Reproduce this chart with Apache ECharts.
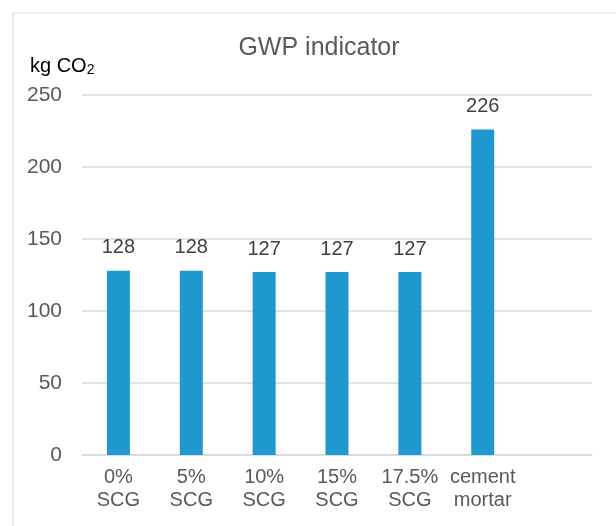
<!DOCTYPE html>
<html><head><meta charset="utf-8">
<script src="https://cdn.jsdelivr.net/npm/echarts@6/dist/echarts.min.js"></script>
<style>html,body{margin:0;padding:0;background:#fff}#c{width:616px;height:526px}</style>
</head><body><div id="c"></div>
<script>
const categories = ['0%\nSCG', '5%\nSCG', '10%\nSCG', '15%\nSCG', '17.5%\nSCG', 'cement\nmortar', ''];
const gwpValues = [128, 128, 127, 127, 127, 226, null];
const yTicks = [0, 50, 100, 150, 200, 250];

const chart = echarts.init(document.getElementById('c'));
chart.setOption({
  animation: false,
  textStyle: { fontFamily: 'Liberation Sans, Arial, sans-serif' },
  title: {
    text: 'GWP indicator', left: 314, top: 31, textAlign: 'center',
    textStyle: { fontSize: 25, fontWeight: 'normal', color: '#595959', fontFamily: 'Liberation Sans' }
  },
  graphic: [
    { type: 'rect', left: 10.5, top: 10.5, shape: { width: 640, height: 560 }, style: { fill: 'none', stroke: '#d9d9d9', lineWidth: 1 }, silent: true },
    { type: 'text', left: 30, top: 56, style: {
        text: 'kg CO{s|2}',
        rich: { s: { fontSize: 14, verticalAlign: 'bottom', padding: [8, 0, 0, 0], fill: '#000' } },
        fontSize: 20, fill: '#000', fontFamily: 'Liberation Sans' } }
  ],
  grid: { left: 82, right: 24, top: 95, bottom: 71, containLabel: false },
  xAxis: {
    type: 'category', data: categories,
    axisLine: { show: true, lineStyle: { color: '#d9d9d9', width: 1.5 } },
    axisTick: { show: false },
    axisLabel: { color: '#595959', fontSize: 20, lineHeight: 23, margin: 11, interval: 0, fontFamily: 'Liberation Sans' }
  },
  yAxis: {
    type: 'value', min: yTicks[0], max: yTicks[yTicks.length - 1], interval: 50,
    axisLine: { show: false }, axisTick: { show: false },
    splitLine: { lineStyle: { color: '#d9d9d9', width: 1.5 } },
    axisLabel: { color: '#595959', fontSize: 21, margin: 20, fontFamily: 'Liberation Sans' }
  },
  series: [{
    type: 'bar', data: gwpValues, barWidth: 23,
    itemStyle: { color: '#1F98CF' },
    label: { show: true, position: 'top', distance: 13, color: '#404040', fontSize: 20, fontFamily: 'Liberation Sans' }
  }]
});
</script></body></html>
